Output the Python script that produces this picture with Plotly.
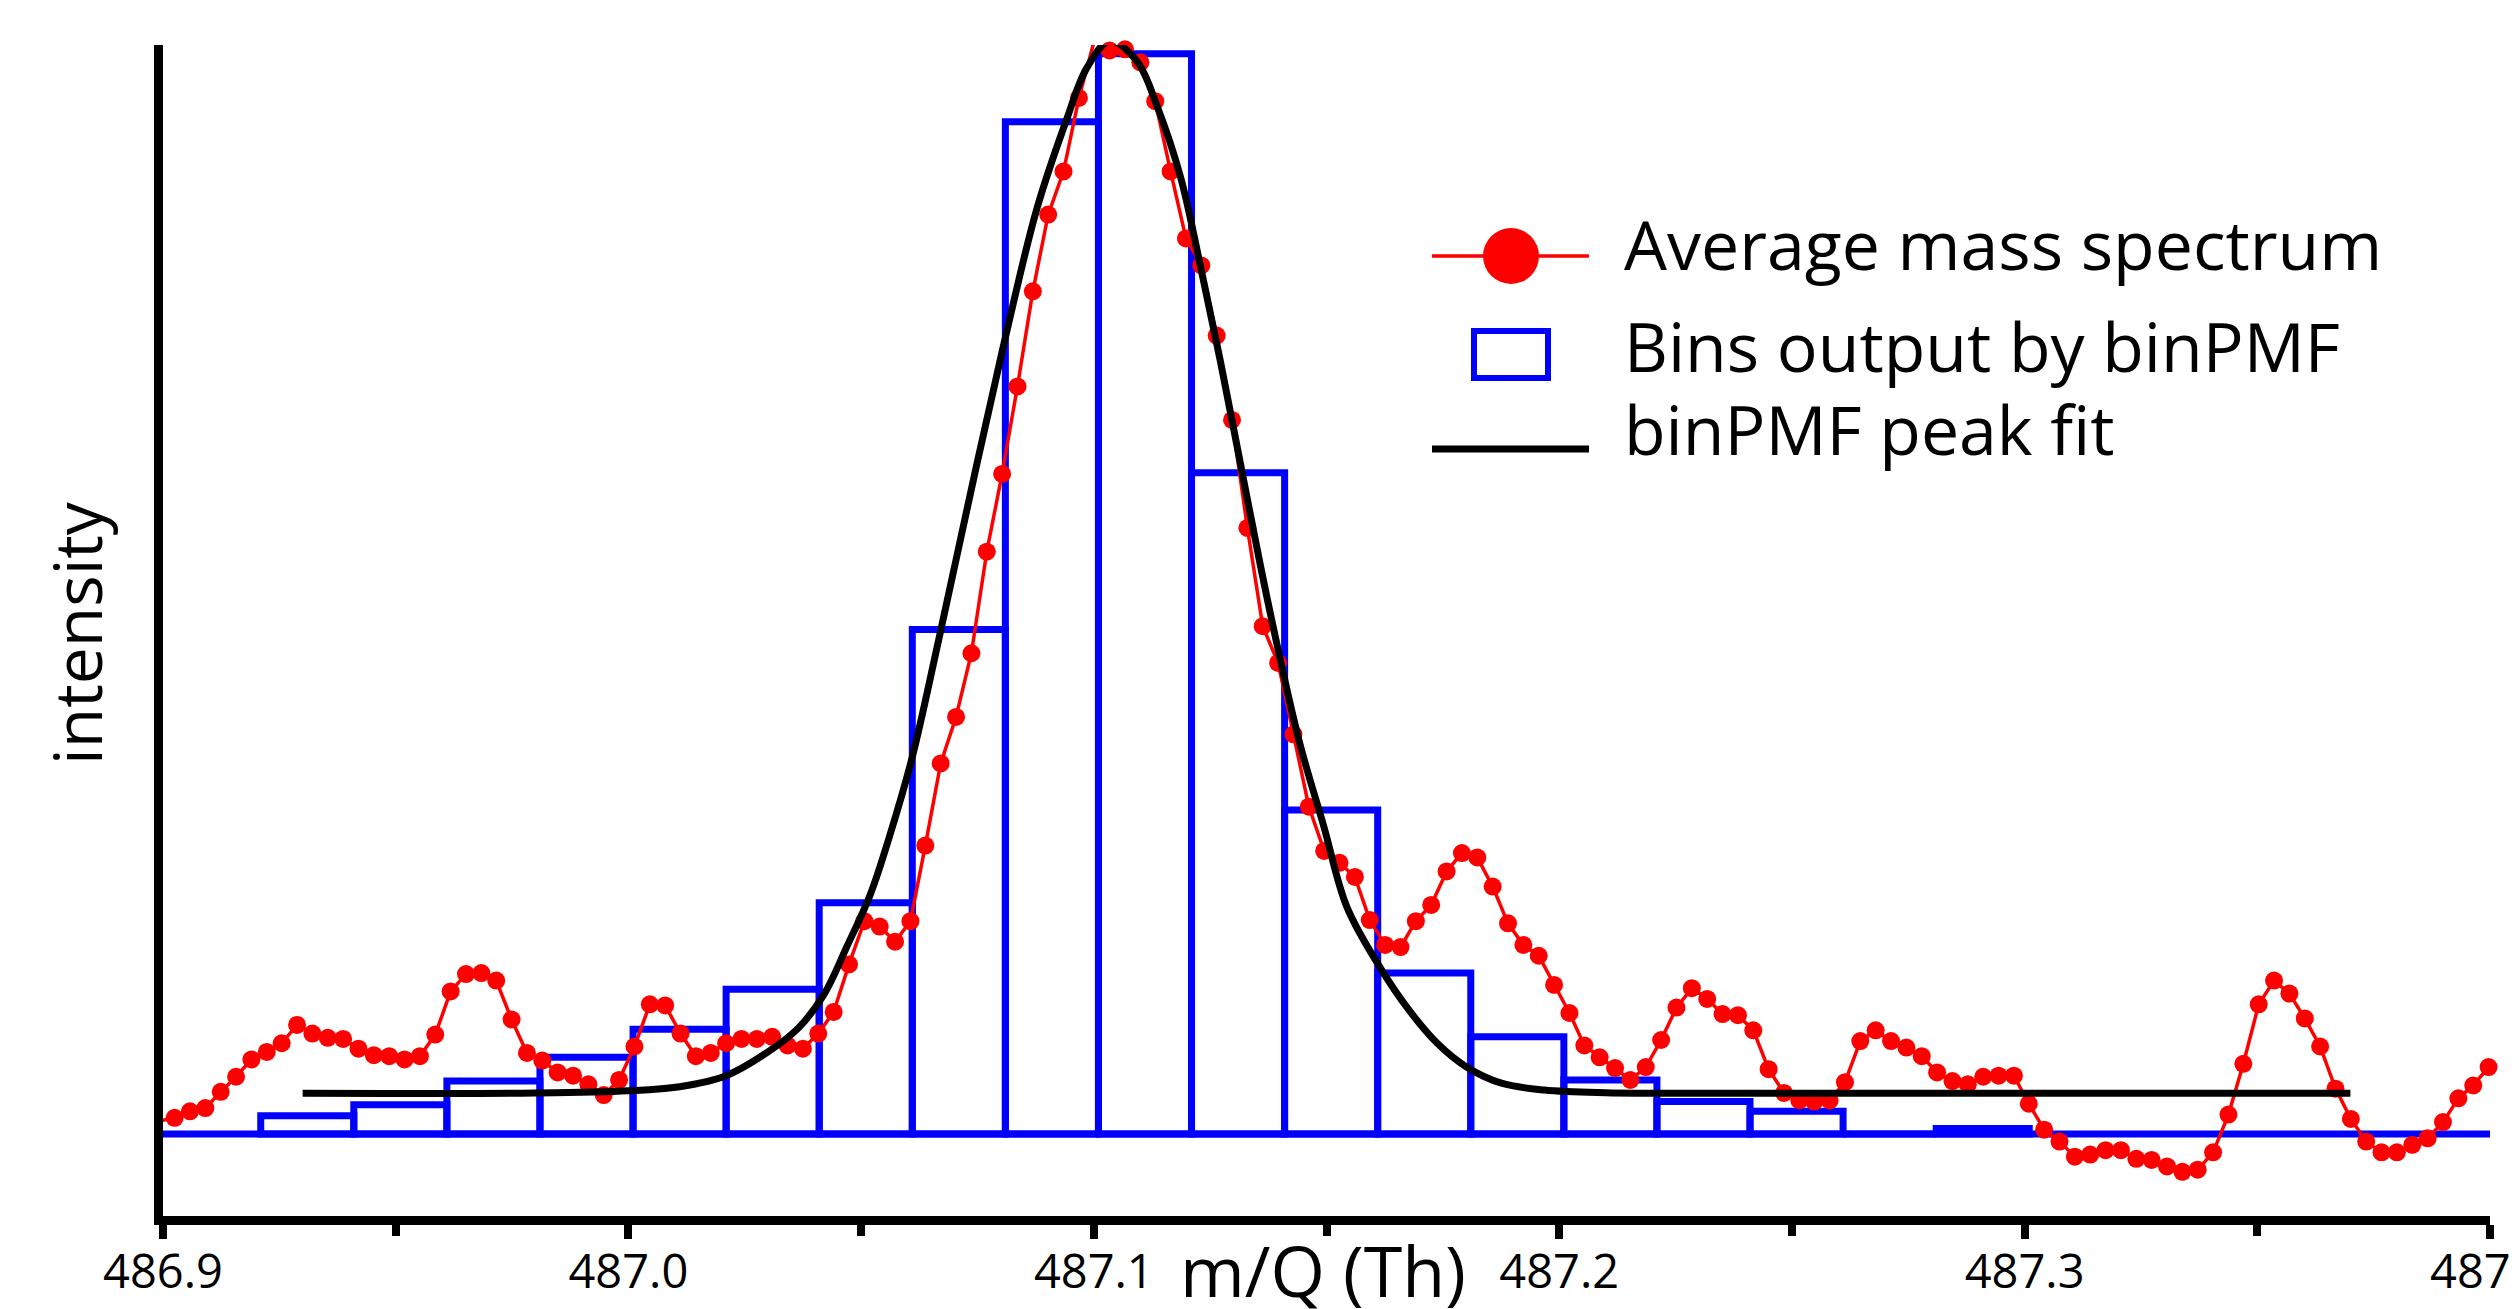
"""Average mass spectrum with binPMF bins and peak fit."""
import plotly.graph_objects as go

# averaged spectrum, m/Q (Th) and intensity (peak bin = 1)
spectrum_mz = [
    486.8992, 486.9025, 486.9058, 486.9091, 486.9124, 486.9157, 486.9190, 486.9223, 486.9255, 486.9288,
    486.9321, 486.9354, 486.9387, 486.9420, 486.9453, 486.9486, 486.9519, 486.9552, 486.9585, 486.9618,
    486.9651, 486.9684, 486.9716, 486.9749, 486.9782, 486.9815, 486.9848, 486.9881, 486.9914, 486.9947,
    486.9980, 487.0013, 487.0046, 487.0079, 487.0112, 487.0145, 487.0177, 487.0210, 487.0243, 487.0276,
    487.0309, 487.0342, 487.0375, 487.0408, 487.0441, 487.0474, 487.0507, 487.0540, 487.0573, 487.0606,
    487.0638, 487.0671, 487.0704, 487.0737, 487.0770, 487.0803, 487.0836, 487.0869, 487.0902, 487.0935,
    487.0968, 487.1001, 487.1034, 487.1067, 487.1100, 487.1132, 487.1165, 487.1198, 487.1231, 487.1264,
    487.1297, 487.1330, 487.1363, 487.1396, 487.1429, 487.1462, 487.1495, 487.1528, 487.1561, 487.1593,
    487.1626, 487.1659, 487.1692, 487.1725, 487.1758, 487.1791, 487.1824, 487.1857, 487.1890, 487.1923,
    487.1956, 487.1989, 487.2022, 487.2054, 487.2087, 487.2120, 487.2153, 487.2186, 487.2219, 487.2252,
    487.2285, 487.2318, 487.2351, 487.2384, 487.2417, 487.2450, 487.2483, 487.2516, 487.2548, 487.2581,
    487.2614, 487.2647, 487.2680, 487.2713, 487.2746, 487.2779, 487.2812, 487.2845, 487.2878, 487.2911,
    487.2944, 487.2977, 487.3009, 487.3042, 487.3075, 487.3108, 487.3141, 487.3174, 487.3207, 487.3240,
    487.3273, 487.3306, 487.3339, 487.3372, 487.3405, 487.3438, 487.3470, 487.3503, 487.3536, 487.3569,
    487.3602, 487.3635, 487.3668, 487.3701, 487.3734, 487.3767, 487.3800, 487.3833, 487.3866, 487.3899,
    487.3932, 487.3964, 487.3997,
]
spectrum_intensity = [
    0.012, 0.015, 0.021, 0.024, 0.039, 0.053, 0.069, 0.076, 0.084, 0.101,
    0.093, 0.089, 0.088, 0.079, 0.073, 0.072, 0.069, 0.072, 0.092, 0.132,
    0.148, 0.149, 0.142, 0.106, 0.075, 0.068, 0.057, 0.054, 0.046, 0.036,
    0.050, 0.081, 0.120, 0.119, 0.093, 0.072, 0.075, 0.084, 0.088, 0.088,
    0.090, 0.082, 0.079, 0.093, 0.113, 0.157, 0.197, 0.192, 0.178, 0.197,
    0.267, 0.343, 0.386, 0.445, 0.539, 0.611, 0.692, 0.780, 0.851, 0.891,
    0.959, 1.012, 1.003, 1.004, 0.992, 0.956, 0.891, 0.829, 0.804, 0.739,
    0.661, 0.561, 0.470, 0.436, 0.370, 0.303, 0.262, 0.251, 0.238, 0.198,
    0.175, 0.173, 0.197, 0.212, 0.243, 0.260, 0.256, 0.229, 0.195, 0.175,
    0.165, 0.138, 0.112, 0.082, 0.071, 0.061, 0.050, 0.062, 0.087, 0.117,
    0.135, 0.125, 0.111, 0.110, 0.096, 0.060, 0.038, 0.031, 0.030, 0.031,
    0.048, 0.086, 0.096, 0.086, 0.080, 0.072, 0.057, 0.049, 0.046, 0.053,
    0.054, 0.054, 0.028, 0.004, -0.007, -0.021, -0.019, -0.015, -0.015, -0.023,
    -0.024, -0.030, -0.035, -0.033, -0.017, 0.018, 0.065, 0.120, 0.142, 0.130,
    0.107, 0.081, 0.042, 0.014, -0.007, -0.017, -0.017, -0.010, -0.004, 0.011,
    0.033, 0.045, 0.062,
]

# binPMF bins (centres, heights)
bin_centers = [486.931, 486.951, 486.971, 486.991, 487.011, 487.031, 487.051, 487.071, 487.091, 487.111,
               487.131, 487.151, 487.171, 487.191, 487.211, 487.231, 487.251, 487.271, 487.291]
bin_heights = [0.017, 0.027, 0.049, 0.071, 0.097, 0.134, 0.214, 0.467, 0.937, 1.000,
               0.612, 0.300, 0.149, 0.090, 0.050, 0.030, 0.021, 0.000, 0.005]
bin_width = 0.02

# binPMF peak fit
fit_mz = [486.930, 486.980, 487.000, 487.011, 487.021, 487.030, 487.0365, 487.042, 487.047, 487.052,
          487.056, 487.061, 487.0667, 487.0749, 487.0814, 487.0878, 487.0942, 487.0985, 487.1034, 487.1093,
          487.1136, 487.1186, 487.1229, 487.1272, 487.1315, 487.1358, 487.1400, 487.1443, 487.1494, 487.1544,
          487.1615, 487.1677, 487.1738, 487.1800, 487.1876, 487.1968, 487.2100, 487.2400, 487.3700]
fit_intensity = [0.0377, 0.0380, 0.0400, 0.0438, 0.0540, 0.0760, 0.0980, 0.1290, 0.1740, 0.2220,
                 0.2740, 0.3490, 0.4580, 0.6207, 0.7447, 0.8569, 0.9395, 0.9868, 1.0116, 0.9927,
                 0.9514, 0.8864, 0.8037, 0.7152, 0.6207, 0.5262, 0.4405, 0.3608, 0.2850, 0.2100,
                 0.1542, 0.1148, 0.0840, 0.0623, 0.0470, 0.0407, 0.0382, 0.0377, 0.0377]

baseline_mz = [486.9, 487.4]
baseline_intensity = [0.0, 0.0]

x_range = [486.9, 487.4]
y_range = [-0.0759, 1.008]
legend_labels = ["Average mass spectrum", "Bins output by binPMF", "binPMF peak fit"]
x_title = "m/Q (Th)"
y_title = "intensity"

# page geometry (pixels in the 2519x1309 window); the page body adds an 8 px margin
WIDTH = 2519
HEIGHT = 1309
BODY = 8
LEFT = 163
RIGHT = 2490
TOP = 45
BOTTOM = 1216
FONT = "Open Sans"
RED = "#ff0000"
BLUE = "#0000ff"
BLACK = "#000000"


def paper_x(px):
    return (px - LEFT) / (RIGHT - LEFT)


def paper_y(py):
    return (BOTTOM - py) / (BOTTOM - TOP)


def label(text, px, py, size, xanchor="left", angle=0):
    return dict(text=text, x=paper_x(px), y=paper_y(py), xref="paper", yref="paper",
                xanchor=xanchor, yanchor="middle", textangle=angle, showarrow=False,
                font=dict(family=FONT, size=size, color=BLACK))


fig = go.Figure()
fig.add_trace(go.Bar(x=bin_centers, y=bin_heights, width=bin_width,
                     marker=dict(color="rgba(0,0,0,0)", line=dict(color=BLUE, width=7)),
                     name=legend_labels[1]))
fig.add_trace(go.Scatter(x=baseline_mz, y=baseline_intensity, mode="lines",
                         line=dict(color=BLUE, width=7), showlegend=False))
fig.add_trace(go.Scatter(x=spectrum_mz, y=spectrum_intensity, mode="lines+markers",
                         line=dict(color=RED, width=3.5), marker=dict(color=RED, size=18),
                         cliponaxis=False, name=legend_labels[0]))
fig.add_trace(go.Scatter(x=fit_mz, y=fit_intensity, mode="lines", line_shape="spline",
                         line=dict(color=BLACK, width=7), name=legend_labels[2]))

# hand-drawn legend, sized like the original
shapes = [
    dict(type="line", x0=paper_x(1432), x1=paper_x(1589), y0=paper_y(256), y1=paper_y(256),
         line=dict(color=RED, width=3.5)),
    dict(type="circle", x0=paper_x(1483), x1=paper_x(1539), y0=paper_y(228), y1=paper_y(284),
         fillcolor=RED, line=dict(width=0)),
    dict(type="rect", x0=paper_x(1474), x1=paper_x(1548), y0=paper_y(331), y1=paper_y(378),
         line=dict(color=BLUE, width=6)),
    dict(type="line", x0=paper_x(1432), x1=paper_x(1589), y0=paper_y(449), y1=paper_y(449),
         line=dict(color=BLACK, width=7)),
]
for s in shapes:
    s.update(xref="paper", yref="paper")

annotations = [
    label(legend_labels[0], 1622, 244, 68),
    label(legend_labels[1], 1622, 346, 68),
    label(legend_labels[2], 1622, 428, 68),
    label(x_title, 1323, 1270, 70, xanchor="center"),
    label(y_title, 76, 633, 66, xanchor="center", angle=-90),
]

fig.update_layout(
    width=WIDTH - BODY,
    height=HEIGHT - BODY,
    autosize=False,
    margin=dict(l=LEFT - BODY, r=WIDTH - RIGHT, t=TOP - BODY, b=HEIGHT - BOTTOM, pad=0),
    paper_bgcolor="white",
    plot_bgcolor="white",
    font=dict(family=FONT, color=BLACK),
    showlegend=False,
    shapes=shapes,
    annotations=annotations,
    xaxis=dict(range=x_range, showline=True, linecolor=BLACK, linewidth=9, automargin=False,
               ticks="outside", tickwidth=8, ticklen=14, tickcolor=BLACK,
               tick0=486.9, dtick=0.1, tickformat=".1f", ticklabelstandoff=-7,
               ticklabeloverflow="allow",
               tickfont=dict(family=FONT, size=47, color=BLACK),
               minor=dict(dtick=0.05, ticks="outside", ticklen=11, tickwidth=8, tickcolor=BLACK),
               showgrid=False, zeroline=False),
    yaxis=dict(range=y_range, showline=True, linecolor=BLACK, linewidth=9, automargin=False,
               ticks="", showticklabels=False, showgrid=False, zeroline=False),
)

fig.write_html("out.html")
